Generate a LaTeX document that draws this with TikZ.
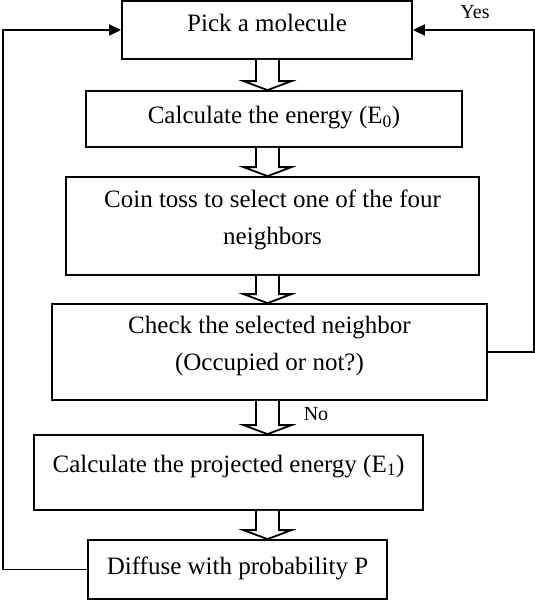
\documentclass[tikz,border=0pt]{standalone}
\usepackage{fontspec}
\setmainfont{Liberation Serif}
\usetikzlibrary{arrows.meta,calc}
\begin{document}
\begin{tikzpicture}[x=1pt,y=-1pt,
  box/.style={draw,line width=1.8pt,inner sep=0pt,align=center,font=\fontsize{25}{37}\selectfont},
  blk/.style={draw,line width=1.8pt,fill=white,line join=miter},
  loop/.style={draw,line width=1.8pt,-{Triangle[length=12pt,width=11pt]}},
  lbl/.style={font=\fontsize{20}{24}\selectfont,inner sep=0pt}]
\useasboundingbox (0,0) rectangle (535,600);
\node[box,minimum width=290pt,minimum height=58pt,text depth=14pt] (b1) at (267,30) {Pick a molecule};
\node[box,minimum width=376pt,minimum height=56pt,text depth=8pt] (b2) at (274,119) {Calculate the energy (E\textsubscript{0})};
\node[box,minimum width=413pt,minimum height=98pt,text depth=18pt] (b3) at (272.5,226) {Coin toss to select one of the four\\neighbors};
\node[box,minimum width=435pt,minimum height=96pt,text depth=18pt] (b4) at (269.5,352) {Check the selected neighbor\\(Occupied or not?)};
\node[box,minimum width=389pt,minimum height=75pt,text depth=18pt] (b5) at (228.5,472.5) {Calculate the projected energy (E\textsubscript{1})};
\node[box,minimum width=299pt,minimum height=59pt,text depth=8pt] (b6) at (237.5,569.5) {Diffuse with probability P};
\coordinate (ax) at (267.5,0);
\coordinate (L) at (3,30);
\coordinate (R) at (534,30);
\foreach \u/\v in {b1/b2,b2/b3,b3/b4,b4/b5,b5/b6}{
  \draw[blk] ($(\u.south -| ax)+(-11.5,0)$) -- ($(\v.north -| ax)+(-11.5,-9)$) -- ($(\v.north -| ax)+(-24,-9)$)
    -- (\v.north -| ax) -- ($(\v.north -| ax)+(24,-9)$) -- ($(\v.north -| ax)+(11.5,-9)$) -- ($(\u.south -| ax)+(11.5,0)$);
}
\draw[loop] (b6.west) -| (L) -- (b1.west);
\draw[loop] (b4.east) -| (R) -- (b1.east);
\node[lbl] (yes) at (475,12) {Yes};
\node[lbl] (no) at (316,414) {No};
\end{tikzpicture}
\end{document}
